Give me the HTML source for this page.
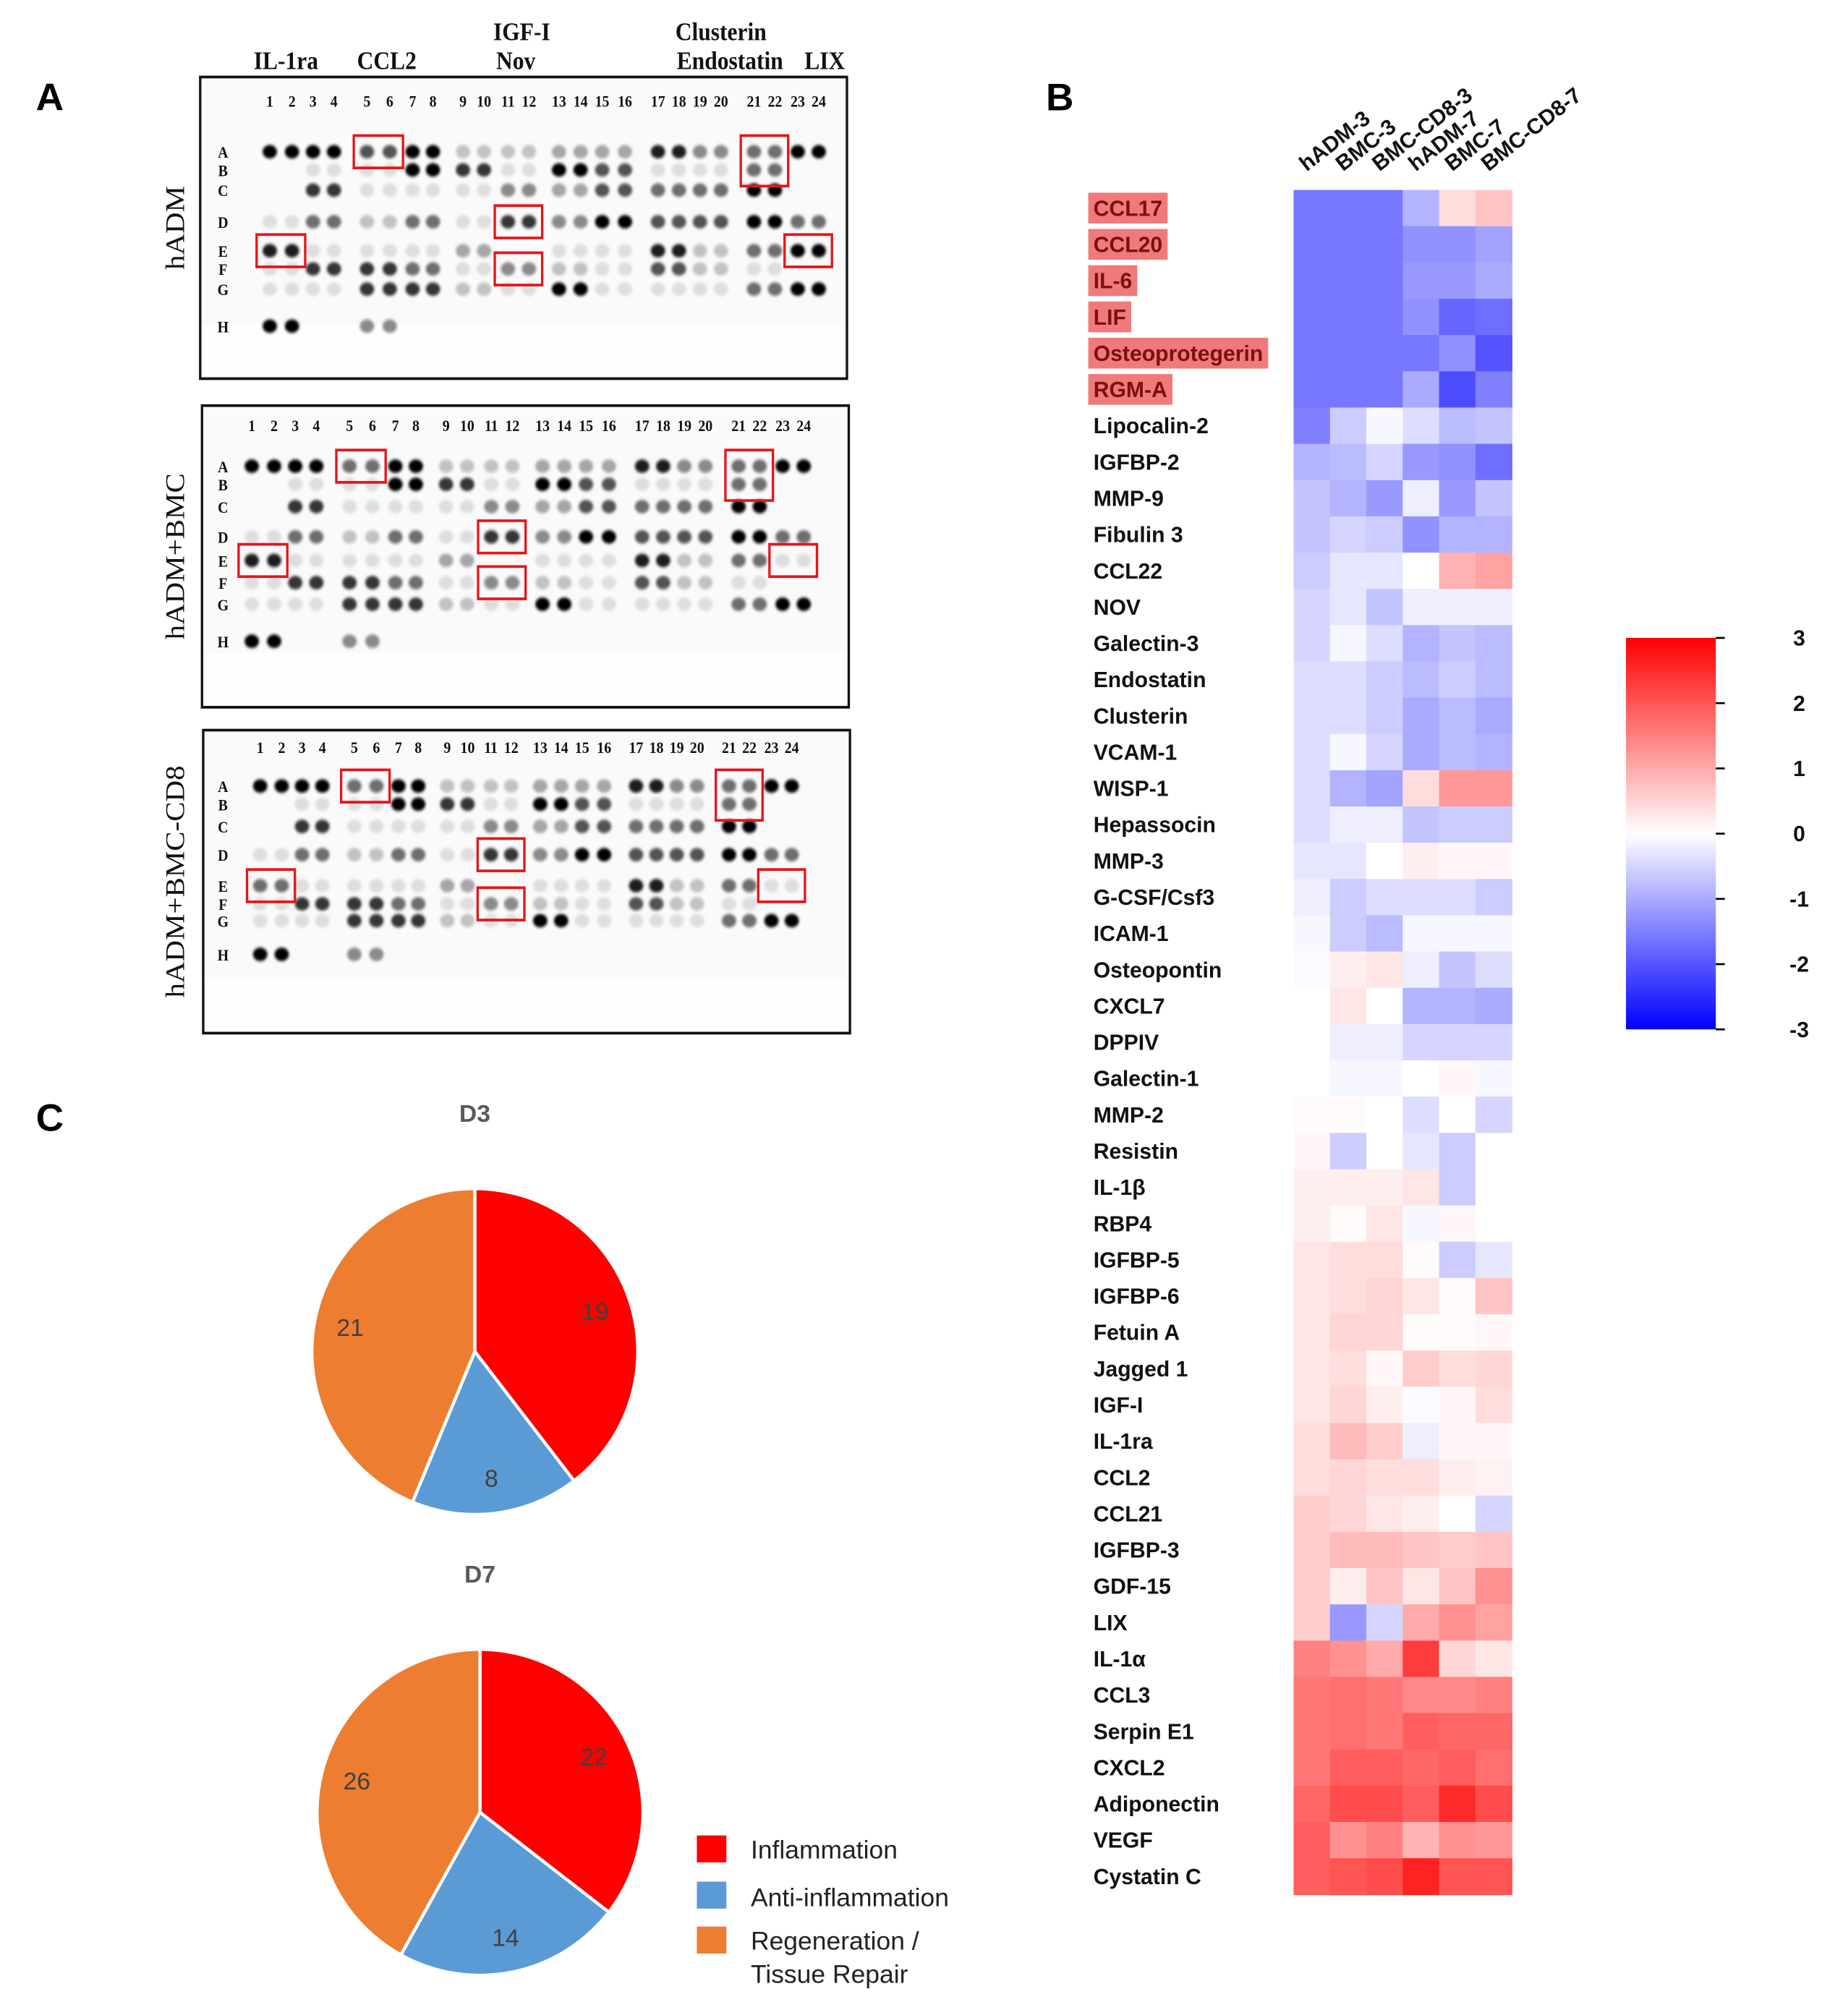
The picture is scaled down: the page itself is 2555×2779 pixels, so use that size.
<!DOCTYPE html>
<html><head><meta charset="utf-8"><style>
html,body{margin:0;padding:0;background:#fff;}
svg{display:block;}
</style></head><body>
<svg id="fig" width="2555" height="2779" viewBox="0 0 1440 1566" preserveAspectRatio="none" xmlns="http://www.w3.org/2000/svg">
<defs>
<filter id="blur" x="-50%" y="-50%" width="200%" height="200%"><feGaussianBlur stdDeviation="2.2"/></filter>
<linearGradient id="cbar" x1="0" y1="0" x2="0" y2="1">
<stop offset="0" stop-color="#ff0000"/><stop offset="0.5" stop-color="#ffffff"/><stop offset="1" stop-color="#0000ff"/>
</linearGradient>
</defs>
<g font-family="Liberation Sans, Arial, sans-serif" font-weight="bold" font-size="30" fill="#000">
<text x="28" y="86">A</text>
<text x="815" y="86">B</text>
<text x="28" y="881">C</text>
</g>
<g id="blots" transform="translate(0.79,-1.38) scale(0.4675,0.5246)"></g>
<g id="heat"></g>
<g id="cb">
<rect x="1267" y="497" width="70" height="305" fill="url(#cbar)"/>
</g>
<g id="pies"></g>
<g id="legend" font-family="Liberation Sans, Arial, sans-serif" font-size="20" fill="#222">
<rect x="543" y="1430" width="23" height="21" fill="#ff0000"/>
<rect x="543" y="1466" width="23" height="21" fill="#5b9bd5"/>
<rect x="543" y="1501" width="23" height="21" fill="#ed7d31"/>
<text x="585" y="1448">Inflammation</text>
<text x="585" y="1485">Anti-inflammation</text>
<text x="585" y="1519">Regeneration /</text>
<text x="585" y="1545">Tissue Repair</text>
</g>
</svg>
<script>
const NS="http://www.w3.org/2000/svg";
// ---------- Heatmap data ----------
const genes=["CCL17","CCL20","IL-6","LIF","Osteoprotegerin","RGM-A","Lipocalin-2","IGFBP-2","MMP-9","Fibulin 3","CCL22","NOV","Galectin-3","Endostatin","Clusterin","VCAM-1","WISP-1","Hepassocin","MMP-3","G-CSF/Csf3","ICAM-1","Osteopontin","CXCL7","DPPIV","Galectin-1","MMP-2","Resistin","IL-1β","RBP4","IGFBP-5","IGFBP-6","Fetuin A","Jagged 1","IGF-I","IL-1ra","CCL2","CCL21","IGFBP-3","GDF-15","LIX","IL-1α","CCL3","Serpin E1","CXCL2","Adiponectin","VEGF","Cystatin C"];
const highlighted=["CCL17","CCL20","IL-6","LIF","Osteoprotegerin","RGM-A"];
const samples=["hADM-3","BMC-3","BMC-CD8-3","hADM-7","BMC-7","BMC-CD8-7"];
const hADM3=[-1.6,-1.6,-1.6,-1.6,-1.6,-1.6,-1.5,-0.9,-0.7,-0.7,-0.6,-0.5,-0.5,-0.4,-0.4,-0.4,-0.4,-0.4,-0.3,-0.2,-0.1,-0.05,0,0,0,0.05,0.1,0.2,0.2,0.3,0.3,0.3,0.3,0.3,0.4,0.4,0.6,0.6,0.6,0.6,1.5,1.6,1.6,1.6,1.8,1.9,1.9];
const BMC3=[-1.6,-1.6,-1.6,-1.6,-1.6,-1.6,-0.6,-0.8,-0.9,-0.5,-0.3,-0.3,-0.1,-0.4,-0.4,-0.1,-0.9,-0.2,-0.3,-0.6,-0.6,0.2,0.3,-0.2,-0.1,0.05,-0.6,0.2,0.05,0.4,0.4,0.5,0.4,0.5,0.8,0.5,0.5,0.8,0.2,-1.2,1.3,1.7,1.7,1.9,2.1,1.3,2.0];
const CD83=[-1.6,-1.6,-1.6,-1.6,-1.6,-1.6,-0.1,-0.5,-1.2,-0.6,-0.3,-0.7,-0.4,-0.6,-0.6,-0.5,-1.1,-0.2,0,-0.4,-0.8,0.3,0,-0.2,-0.1,0,0,0.2,0.3,0.4,0.5,0.5,0.1,0.2,0.6,0.4,0.3,0.8,0.7,-0.5,1.0,1.6,1.6,1.9,2.1,1.5,2.1];
const hADM7=[-0.9,-1.3,-1.2,-1.3,-1.6,-1.0,-0.4,-1.2,-0.2,-1.3,0,-0.2,-0.9,-0.8,-1.0,-1.0,0.4,-0.7,0.2,-0.4,-0.1,-0.2,-0.9,-0.5,0,-0.4,-0.3,0.3,-0.1,0.05,0.3,0.05,0.6,-0.05,-0.2,0.4,0.2,0.7,0.3,1.0,2.3,1.4,1.9,1.8,1.9,0.9,2.6];
const BMC7=[0.4,-1.3,-1.2,-1.8,-1.3,-2.1,-0.8,-1.3,-1.2,-0.9,0.9,-0.2,-0.7,-0.6,-0.8,-0.8,1.2,-0.6,0.1,-0.4,-0.1,-0.7,-0.9,-0.5,0.1,0,-0.6,-0.6,0.1,-0.6,0.05,0.05,0.4,0.1,0.1,0.2,0,0.6,0.7,1.3,0.5,1.4,1.8,1.9,2.5,1.3,2.0];
const CD87=[0.7,-1.1,-1.0,-1.7,-2.0,-1.5,-0.7,-1.7,-0.7,-0.9,1.1,-0.2,-0.8,-0.8,-1.0,-0.9,1.2,-0.6,0.1,-0.6,-0.1,-0.4,-1.0,-0.5,-0.1,-0.5,0,0,0,-0.3,0.7,0.1,0.5,0.4,0.1,0.15,-0.5,0.7,1.3,1.1,0.3,1.5,1.8,1.7,2.1,1.2,2.0];
const series=[hADM3,BMC3,CD83,hADM7,BMC7,CD87];
const scaleTicks=[3,2,1,0,-1,-2,-3];
// ---------- Pie data ----------
const pieCats=["Inflammation","Anti-inflammation","Regeneration / Tissue Repair"];
const pieColors=["#ff0000","#5b9bd5","#ed7d31"];
const d3Values=[19,8,21];
const d7Values=[22,14,26];
// ---------- Dot blot data ----------
const rowNames=["A","B","C","D","E","F","G","H"];
const blot1=[
 [9,9,9,9,6,6,9,9,2,2,2,2,3,3,3,3,8,8,4,4,5,5,9,9],
 [0,0,1,1,1,1,9,9,7,7,1,1,9,9,6,6,1,1,1,1,5,5,0,0],
 [0,0,7,7,1,1,1,1,1,1,4,4,3,3,6,6,5,5,5,5,9,9,0,0],
 [1,1,5,5,2,2,5,5,1,1,7,7,4,4,9,9,6,6,6,6,9,9,5,5],
 [8,8,1,1,1,1,1,1,3,3,0,0,1,1,1,1,8,8,2,2,5,5,9,9],
 [1,1,7,7,7,7,5,5,1,1,4,4,2,2,1,1,6,6,2,2,1,1,0,0],
 [1,1,1,1,7,7,7,7,2,2,1,1,9,9,1,1,1,1,1,1,5,5,9,9],
 [9,9,0,0,4,4,0,0,0,0,0,0,0,0,0,0,0,0,0,0,0,0,0,0]
];
const blotTitles=["hADM","hADM+BMC","hADM+BMC-CD8"];

function mk(tag,attrs,parent){const e=document.createElementNS(NS,tag);for(const k in attrs)e.setAttribute(k,attrs[k]);parent.appendChild(e);return e;}

// Heatmap
const heat=document.getElementById('heat');
const hx0=1008,hx1=1178,hy0=148,hy1=1476;
const cw=(hx1-hx0)/samples.length, rh=(hy1-hy0)/genes.length;
function xPos(c){return hx0+c*cw;}
function yPos(r){return hy0+r*rh;}
function col(v){v=Math.max(-3,Math.min(3,v));let r,g,b;if(v<0){const t=1+v/3;r=Math.round(255*t);g=r;b=255;}else{const t=1-v/3;r=255;g=Math.round(255*t);b=g;}return `rgb(${r},${g},${b})`;}
series.forEach((s,c)=>{s.forEach((v,r)=>{
 const el=mk('rect',{x:xPos(c),y:yPos(r),width:cw+0.5,height:rh+0.5,fill:col(v)},heat);
 
 
});});
genes.forEach((g,r)=>{
 const cy=yPos(r)+rh/2;
 const hl=highlighted.includes(g);
 const t=mk('text',{x:852,y:cy+6,'font-family':'Liberation Sans, Arial, sans-serif','font-weight':'bold','font-size':17,fill:hl?'#7a1010':'#111'},heat);
 t.textContent=g;
 
 
 if(hl){const w=t.getComputedTextLength();const bg=mk('rect',{x:848,y:cy-12,width:w+8,height:24,fill:'#f07a7a'},heat);heat.insertBefore(bg,t);
  
  }
});
samples.forEach((s,c)=>{
 const x=xPos(c)+cw/2-4,y=134;
 const t=mk('text',{x:x,y:y,transform:`rotate(-38 ${x} ${y})`,'font-family':'Liberation Sans, Arial, sans-serif','font-weight':'bold','font-size':17,fill:'#111'},heat);
 t.textContent=s;
 
 
});
// Colour scale
const cb=document.getElementById('cb');
scaleTicks.forEach(v=>{
 const y=497+(3-v)/6*305;
 const l=mk('line',{x1:1337,x2:1344,y1:y,y2:y,stroke:'#000','stroke-width':1.5},cb);
 
 
 const t=mk('text',{x:1402,y:y+6,'text-anchor':'middle','font-family':'Liberation Sans, Arial, sans-serif','font-weight':'bold','font-size':17,fill:'#111'},cb);
 t.textContent=v;
 
 
});
// Pies
const pies=document.getElementById('pies');
function drawPie(vals,cx,cy,R,title,ty){
 const tt=mk('text',{x:cx,y:ty,'text-anchor':'middle','font-family':'Liberation Sans, Arial, sans-serif','font-weight':'bold','font-size':19,fill:'#595959'},pies);
 tt.textContent=title;
 
 
 const tot=vals.reduce((a,b)=>a+b,0);let a0=-Math.PI/2;
 vals.forEach((v,i)=>{
  const a1=a0+v/tot*2*Math.PI;
  const x0=cx+R*Math.cos(a0),y0=cy+R*Math.sin(a0),x1=cx+R*Math.cos(a1),y1=cy+R*Math.sin(a1);
  const large=(a1-a0)>Math.PI?1:0;
  const p=mk('path',{d:`M${cx},${cy}L${x0},${y0}A${R},${R} 0 ${large} 1 ${x1},${y1}Z`,fill:pieColors[i],stroke:'#fff','stroke-width':2.5},pies);
  
  
  const am=(a0+a1)/2;const lr=R*0.78;
  const t=mk('text',{x:cx+lr*Math.cos(am),y:cy+lr*Math.sin(am)+7,'text-anchor':'middle','font-family':'Liberation Sans, Arial, sans-serif','font-size':19,fill:'#404040'},pies);
  t.textContent=v;
  
  
  a0=a1;
 });
}
drawPie(d3Values,370,1053,127,"D3",874);
drawPie(d7Values,374,1412,127,"D7",1233);

// Dot blots (zoom-coordinate space)
const blots=document.getElementById('blots');
const panels=[
 {box:[332,117,1410,565],c1:448,c24:1363,rows:[228,255,285,332,375,402,432,487],num:153},
 {box:[335,605,1413,1053],c1:418,c24:1338,rows:[695,722,755,800,835,868,900,955],num:635},
 {box:[337,1087,1415,1537],c1:432,c24:1318,rows:[1170,1197,1230,1272,1318,1345,1370,1420],num:1113}
];
const basePos=[448,485,520,555,610,648,686,720,770,805,845,880,930,966,1002,1040,1095,1130,1165,1200,1255,1290,1328,1363];
const boxesSpec=[[4,5,0,0],[20,21,0,1],[10,11,3,3],[0,1,4,4],[10,11,5,5],[22,23,4,4]];
const headerLbl=[["IL-1ra",475,105],["CCL2",643,105],["IGF-I",868,62],["Nov",858,105],["Clusterin",1200,62],["Endostatin",1215,105],["LIX",1373,105]];
headerLbl.forEach(h=>{const t=mk('text',{x:h[1],y:h[2],'text-anchor':'middle','font-family':'Liberation Serif, serif','font-weight':'bold','font-size':38,fill:'#111'},blots);t.textContent=h[0];
 
 });
panels.forEach((p,pi)=>{
 const [x0,y0,x1,y1]=p.box;
 const g=mk('g',{},blots);
 
 
 mk('rect',{x:x0,y:y0,width:x1-x0,height:y1-y0,fill:'#fafafa',stroke:'#111','stroke-width':4},g);
 mk('rect',{x:x0+6,y:y0+(y1-y0)*0.82,width:x1-x0-12,height:(y1-y0)*0.17,fill:'#fefefe'},g);
 const cx=i=>p.c1+(basePos[i]-448)*(p.c24-p.c1)/(1363-448);
 for(let i=0;i<24;i++){const t=mk('text',{x:cx(i),y:p.num+8,'text-anchor':'middle','font-family':'Liberation Serif, serif','font-weight':'bold','font-size':24,fill:'#111'},g);t.textContent=i+1;
  
  }
 rowNames.forEach((rn,r)=>{const t=mk('text',{x:370,y:p.rows[r]+9,'text-anchor':'middle','font-family':'Liberation Serif, serif','font-weight':'bold','font-size':24,fill:'#111'},g);t.textContent=rn;
  
  });
 const st=mk('text',{x:0,y:0,transform:`translate(${305},${(y0+y1)/2}) rotate(-90)`,'text-anchor':'middle','font-family':'Liberation Serif, serif','font-size':44,fill:'#111'},g);
 st.textContent=blotTitles[pi];
 
 
 const dg=mk('g',{filter:'url(#blur)'},g);
 blot1.forEach((rowArr,r)=>{for(let i=0;i<24;i++){let v=rowArr[i];
   if(pi>0&&r===4&&i>=22)v=1;
   if(pi===2&&r===4&&i<2)v=5;
   if(pi>0&&r===0&&(i===4||i===5))v=5;
   if(!v)continue;
   const gray=Math.max(0,Math.round(250-v*28));
   const d=mk('ellipse',{cx:cx(i),cy:p.rows[r],rx:12,ry:10,fill:`rgb(${gray},${gray},${gray})`},dg);
   
   }});
 boxesSpec.forEach(b=>{const xa=cx(b[0])-22,xb=cx(b[1])+22,ya=p.rows[b[2]]-24,yb=p.rows[b[3]]+24;
  const rr=mk('rect',{x:xa,y:ya,width:xb-xa,height:yb-ya,fill:'none',stroke:'#e8141a','stroke-width':4},g);
  
  });
});
</script>
</body></html>
